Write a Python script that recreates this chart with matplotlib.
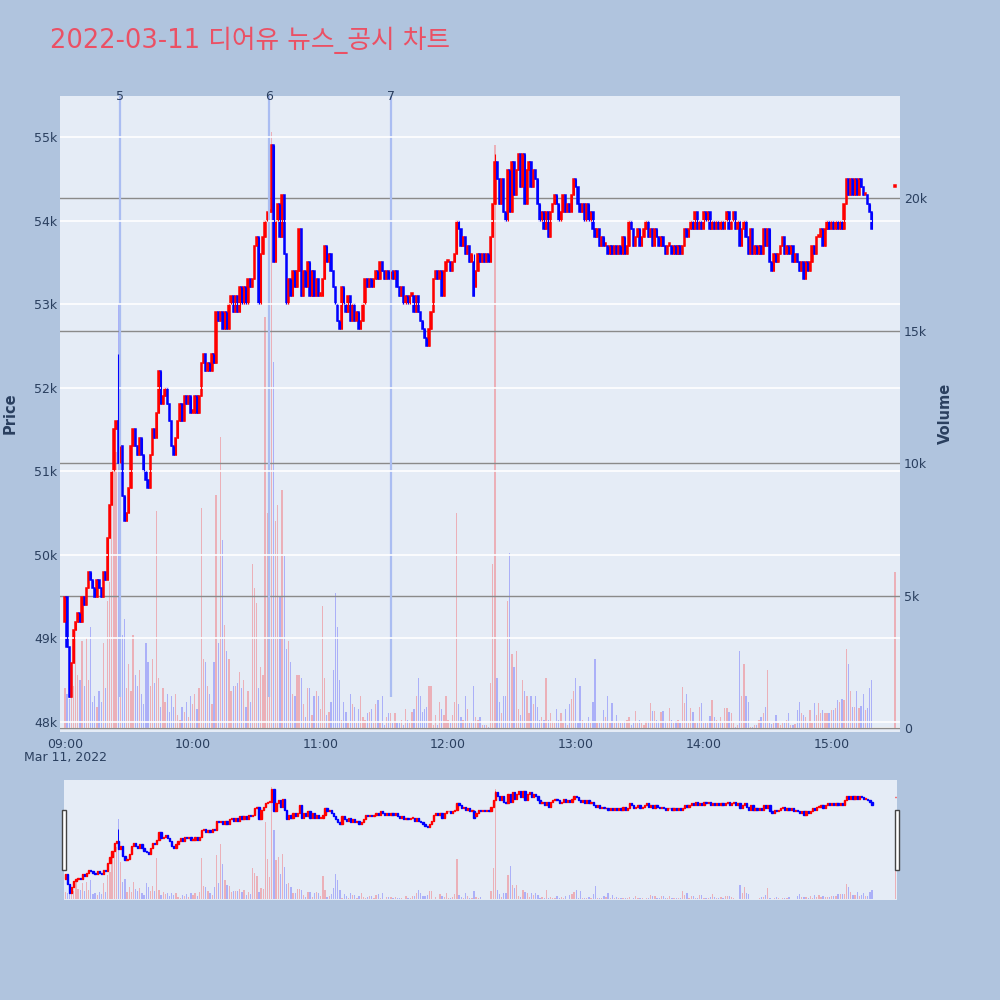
import numpy as np
import matplotlib
matplotlib.use('Agg')
import matplotlib.pyplot as plt
from matplotlib.patches import Rectangle
from matplotlib.transforms import blended_transform_factory

plt.rcParams['font.family'] = ['DejaVu Sans', 'Noto Sans CJK KR']

# === Data (1-minute bars from 09:00, prices in units of 100 won) ===
title = '2022-03-11 디어유 뉴스_공시 차트'
first_open = 492
close_h = [
    495, 489, 483, 487, 491, 492, 493, 492, 495, 494,
    496, 498, 497, 496, 495, 497, 496, 495, 498, 497,
    502, 506, 510, 515, 516, 511, 513, 507, 504, 505,
    508, 513, 515, 513, 512, 514, 512, 510, 509, 508,
    512, 515, 514, 517, 522, 518, 519, 520, 518, 516,
    513, 512, 514, 516, 518, 516, 519, 518, 519, 517,
    517, 519, 517, 519, 523, 524, 522, 523, 522, 524,
    523, 529, 528, 529, 527, 529, 527, 530, 531, 529,
    531, 529, 532, 530, 532, 530, 533, 532, 533, 537,
    538, 530, 536, 538, 540, 541, 541, 549, 535, 540,
    542, 538, 543, 536, 530, 533, 531, 534, 532, 534,
    539, 531, 534, 532, 535, 531, 534, 531, 533, 531,
    531, 533, 537, 535, 536, 534, 532, 530, 528, 527,
    532, 530, 529, 531, 528, 530, 528, 529, 527, 528,
    530, 533, 532, 533, 532, 533, 534, 533, 535, 534,
    533, 534, 533, 534, 533, 534, 532, 531, 532, 530,
    531, 530, 531, 531, 529, 531, 529, 528, 527, 526,
    525, 527, 529, 533, 534, 533, 534, 531, 534, 535,
    535, 534, 535, 536, 540, 539, 537, 538, 536, 537,
    535, 536, 532, 534, 536, 535, 536, 535, 536, 535,
    538, 542, 547, 545, 542, 545, 541, 540, 546, 541,
    547, 543, 546, 548, 544, 548, 542, 546, 547, 544,
    546, 545, 542, 540, 541, 539, 541, 538, 541, 542,
    543, 542, 540, 541, 543, 541, 542, 541, 543, 545,
    544, 542, 541, 542, 540, 542, 540, 541, 539, 538,
    539, 537, 538, 537, 537, 536, 537, 536, 537, 536,
    537, 536, 538, 536, 537, 540, 539, 537, 538, 539,
    537, 538, 539, 540, 538, 539, 537, 539, 538, 537,
    538, 537, 536, 537, 537, 536, 537, 536, 537, 536,
    537, 539, 538, 539, 540, 539, 541, 539, 540, 539,
    541, 540, 541, 539, 540, 539, 540, 539, 540, 539,
    540, 541, 539, 540, 541, 539, 540, 537, 539, 540,
    538, 536, 539, 536, 537, 536, 537, 536, 539, 537,
    539, 535, 534, 536, 535, 536, 537, 538, 536, 537,
    536, 537, 535, 536, 535, 534, 535, 533, 535, 534,
    535, 537, 536, 538, 538, 539, 537, 539, 540, 539,
    540, 539, 540, 539, 540, 539, 542, 545, 543, 545,
    543, 545, 543, 545, 544, 543, 543, 542, 541, 539,
]
high_wicks = {25: 524, 202: 548}
low_wicks = {192: 531, 347: 533}

volume_k = [
    1.5, 1.3, 1.1, 1.4, 1.6, 3.9, 2.0, 1.8, 3.3, 1.6,
    3.4, 1.8, 3.8, 1.0, 1.2, 0.8, 1.4, 1.0, 3.2, 1.5,
    4.8, 5.5, 8.6, 11.0, 10.4, 16.0, 7.5, 3.5, 4.1, 1.5,
    2.4, 1.4, 3.5, 2.0, 1.6, 2.2, 1.3, 0.9, 3.2, 2.5,
    1.6, 2.6, 1.7, 8.2, 1.9, 0.8, 1.5, 1.0, 1.3, 0.6,
    1.2, 0.8, 1.3, 0.5, 0.3, 0.8, 0.6, 1.0, 0.4, 1.2,
    0.9, 1.3, 0.7, 1.5, 8.3, 2.6, 2.5, 1.6, 1.3, 0.9,
    2.5, 8.8, 3.2, 11.0, 7.1, 3.9, 2.9, 2.6, 1.4, 1.6,
    1.6, 1.7, 2.1, 1.5, 1.8, 0.8, 1.4, 1.0, 6.2, 5.3,
    4.7, 1.5, 2.3, 2.0, 15.5, 8.1, 4.5, 22.5, 13.8, 7.8,
    8.4, 5.0, 9.0, 6.5, 3.0, 3.3, 2.5, 1.3, 1.2, 2.0,
    2.0, 1.9, 0.9, 0.4, 1.5, 1.5, 0.5, 1.2, 1.4, 1.2,
    0.7, 4.6, 1.9, 0.5, 0.6, 1.0, 2.2, 5.1, 3.8, 1.8,
    0.3, 1.0, 0.6, 0.2, 1.3, 0.9, 0.8, 0.2, 0.7, 1.2,
    0.4, 0.3, 0.55, 0.6, 0.7, 0.2, 0.9, 1.05, 0.2, 1.2,
    0.1, 0.4, 0.55, 0.55, 0.2, 0.55, 0.2, 0.2, 0.3, 0.1,
    0.7, 0.3, 0.2, 0.6, 0.7, 1.2, 1.9, 1.2, 0.6, 0.7,
    0.8, 1.6, 1.6, 0.1, 0.5, 0.1, 1.0, 0.7, 0.5, 1.2,
    0.3, 0.2, 0.5, 1.0, 8.1, 0.9, 0.4, 0.3, 1.2, 0.7,
    0.2, 0.2, 1.6, 0.4, 0.3, 0.4, 0.1, 0.1, 0.1, 0.05,
    1.7, 6.2, 22.0, 1.9, 1.0, 0.55, 1.2, 1.2, 4.8, 6.6,
    2.8, 2.3, 2.9, 0.7, 0.5, 1.8, 1.4, 1.2, 0.55, 1.2,
    0.9, 1.2, 0.8, 0.3, 0.4, 0.3, 1.9, 0.3, 0.55, 0.25,
    0.2, 0.7, 0.3, 0.55, 0.2, 0.7, 0.1, 0.9, 1.1, 1.4,
    1.9, 0.2, 1.6, 0.3, 0.2, 0.2, 0.4, 0.2, 1.0, 2.6,
    0.2, 0.2, 0.2, 0.68, 0.43, 1.2, 0.2, 0.93, 0.2, 0.5,
    0.25, 0.2, 0.2, 0.25, 0.3, 0.4, 0.1, 0.2, 0.66, 0.2,
    0.3, 0.2, 0.1, 0.25, 0.25, 0.93, 0.66, 0.66, 0.3, 0.25,
    0.6, 0.66, 0.25, 0.2, 0.74, 0.3, 0.2, 0.25, 0.3, 0.2,
    1.56, 0.93, 1.3, 0.2, 0.74, 0.6, 0.2, 0.2, 0.8, 0.93,
    0.2, 0.2, 0.2, 0.45, 1.06, 0.4, 0.3, 0.2, 0.4, 0.2,
    0.75, 0.74, 0.6, 0.55, 0.2, 0.05, 0.1, 2.9, 1.2, 2.4,
    1.2, 1.0, 0.05, 0.05, 0.1, 0.1, 0.3, 0.4, 0.55, 0.8,
    2.2, 0.2, 0.15, 0.2, 0.5, 0.2, 0.1, 0.2, 0.2, 0.3,
    0.55, 0.1, 0.1, 0.15, 0.68, 1.0, 0.55, 0.5, 0.43, 0.2,
    0.68, 0.2, 0.93, 0.5, 0.93, 0.55, 0.68, 0.55, 0.55, 0.55,
    0.68, 0.68, 0.74, 1.06, 1.0, 1.1, 1.05, 3.0, 2.4, 1.4,
    0.8, 0.8, 1.4, 0.75, 0.85, 1.3, 0.68, 0.75, 1.5, 1.8,
]
# closing auction bar at 15:30
auction_min = 390
auction_open, auction_close, auction_vol_k = 544, 544, 5.9

event_labels = ['5', '6', '7']
event_times = ['09:26', '10:36', '11:33']

hour_ticks = ['09:00', '10:00', '11:00', '12:00', '13:00', '14:00', '15:00']
price_ticks = [48000, 49000, 50000, 51000, 52000, 53000, 54000, 55000]
vol_ticks = [0, 5000, 10000, 15000, 20000]


def to_min(hhmm):
    h, m = hhmm.split(':')
    return (int(h) - 9) * 60 + int(m)


# === Build bar table ===
n = len(close_h)
t = np.append(np.arange(n), auction_min)
c = np.append(np.array(close_h), auction_close) * 100.0
o = np.append(np.concatenate([[first_open], close_h[:-1]]), auction_open) * 100.0
hi = np.maximum(o, c)
lo = np.minimum(o, c)
for k, v in high_wicks.items():
    hi[k] = max(hi[k], v * 100)
for k, v in low_wicks.items():
    lo[k] = min(lo[k], v * 100)
vol = np.append(np.array(volume_k), auction_vol_k) * 1000.0
up = c >= o
candle_col = np.where(up, '#ff0000', '#0000ff')
vol_col = [(1, 0, 0, 0.25) if u else (0, 0, 1, 0.25) for u in up]

BG = '#B0C4DE'
PLOT_BG = '#E5ECF6'
TXT = '#2a3f5f'
PRICE_LIM = (47880, 55490)
VOL_LIM = (-150, 23850)


def draw(ax, axv, xlim, lw, bw):
    axv.set_zorder(1)
    ax.set_zorder(2)
    ax.patch.set_visible(False)
    axv.patch.set_visible(True)
    axv.set_facecolor(PLOT_BG)
    axv.bar(t, vol, width=0.6, color=vol_col, linewidth=0)
    ax.vlines(t, lo, hi, colors=candle_col, lw=lw * 0.7)
    ax.bar(t, np.maximum(np.abs(c - o), 30), bottom=lo, width=bw,
           color=candle_col, edgecolor=candle_col, linewidth=lw)
    ax.set_xlim(*xlim)
    ax.set_ylim(*PRICE_LIM)
    axv.set_ylim(*VOL_LIM)
    for a in (ax, axv):
        for s in a.spines.values():
            s.set_visible(False)


fig = plt.figure(figsize=(10, 10), dpi=100, facecolor=BG)

# — main chart —
ax = fig.add_axes([0.060, 0.268, 0.840, 0.636])
axv = ax.twinx()
draw(ax, axv, (-2.35, 392.3), 1.1, 0.6)

ax.set_yticks(price_ticks)
ax.set_yticklabels([f'{p // 1000}k' for p in price_ticks])
ax.grid(axis='y', color='white', lw=1.2)
ax.tick_params(axis='y', length=0, pad=2, labelsize=9, labelcolor=TXT)
axv.set_yticks(vol_ticks)
axv.set_yticklabels(['0'] + [f'{v // 1000}k' for v in vol_ticks[1:]])
axv.grid(axis='y', color='#8a8a8a', lw=1.0)
axv.tick_params(axis='y', length=0, pad=3, labelsize=9, labelcolor=TXT)
ax.set_xticks([to_min(h) for h in hour_ticks])
ax.set_xticklabels(hour_ticks)
ax.tick_params(axis='x', length=0, pad=4, labelsize=9, labelcolor=TXT)
axv.axhline(0, color='white', lw=1.5, zorder=0.5)

# event markers
tr = blended_transform_factory(ax.transData, ax.transAxes)
day_low = lo.min()
for lab, tm in zip(event_labels, event_times):
    x = to_min(tm)
    ax.vlines(x, day_low, PRICE_LIM[1], colors='#aabdf2', lw=1.6, zorder=1)
    ax.text(x, 1.0, lab, transform=tr, ha='center', va='center',
            fontsize=9, color=TXT)

fig.text(0.065, 0.242, 'Mar 11, 2022', ha='center', va='center',
         fontsize=9, color=TXT)
fig.text(0.010, 0.587, 'Price', rotation=90, ha='center', va='center',
         fontsize=10.5, fontweight='bold', color=TXT)
fig.text(0.945, 0.587, 'Volume', rotation=90, ha='center', va='center',
         fontsize=10.5, fontweight='bold', color=TXT)
fig.text(0.050, 0.960, title, ha='left', va='center', fontsize=18.5,
         color='#EB5064')

# — range slider —
rs = fig.add_axes([0.064, 0.100, 0.833, 0.120])
rsv = rs.twinx()
draw(rs, rsv, (-0.6, 390.7), 1.0, 0.6)
for a in (rs, rsv):
    a.set_xticks([])
    a.set_yticks([])

for hx in (0.062, 0.895):
    fig.patches.append(Rectangle((hx, 0.130), 0.004, 0.060, transform=fig.transFigure,
                                 facecolor='white', edgecolor='#444444', lw=1.0))

fig.savefig('out.png', dpi=100, facecolor=BG)
